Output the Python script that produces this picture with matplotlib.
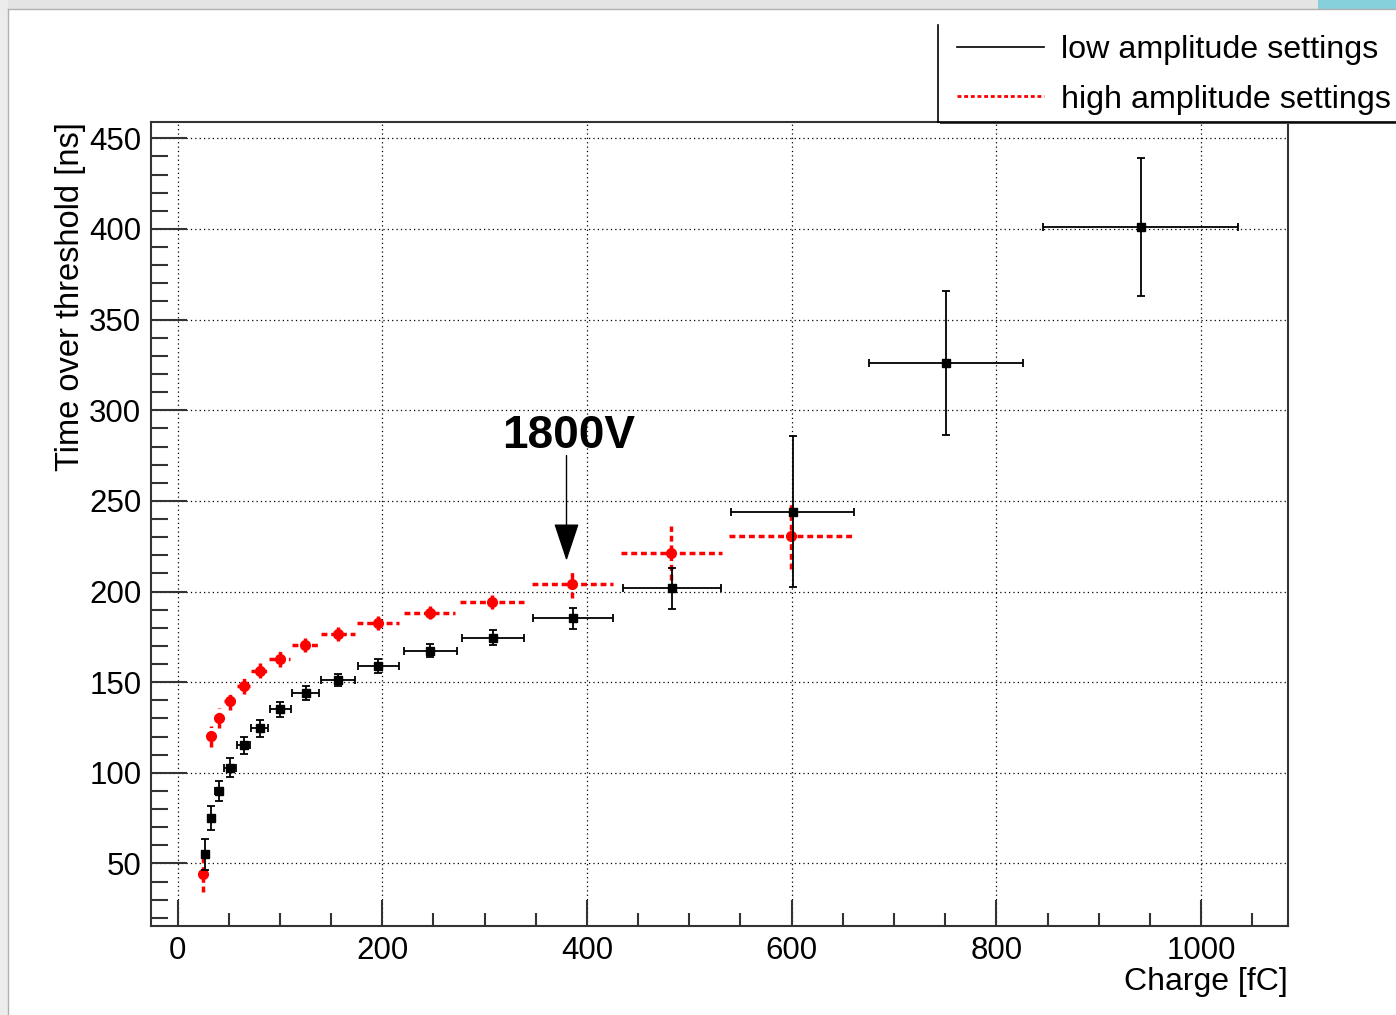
import matplotlib
matplotlib.use("Agg")
import matplotlib.pyplot as plt
import matplotlib.patches as patches
from matplotlib.lines import Line2D
from matplotlib.ticker import MultipleLocator

plt.rcParams['font.family'] = ['Liberation Sans', 'DejaVu Sans']

# low amplitude settings (black)
low_q = [26.4, 32.9, 40.4, 51.1, 64.5, 80.4, 100.3, 125, 157, 196, 247, 308, 386, 483, 601, 751, 941]
low_q_err = [2.6, 3.3, 4.0, 5.5, 6.3, 8.3, 10.5, 13, 16.4, 20, 26, 30, 39, 48, 60, 75, 95]
low_tot = [55.1, 75.1, 90.2, 102.9, 115.1, 124.5, 135.0, 144.0, 151.4, 159.1, 167.3, 174.6, 185.3, 201.7, 244.1, 326, 401.2]
low_tot_err = [8.5, 6.6, 5.5, 5.3, 4.6, 4.6, 4.2, 3.9, 3.3, 3.8, 3.5, 4.0, 5.7, 11.4, 41.8, 39.8, 38.2]

# high amplitude settings (red)
high_q = [24.8, 32.2, 40.1, 50.8, 64.5, 80.1, 99.7, 124.4, 156.6, 196.1, 246.2, 307.4, 385.8, 482.4, 599.5]
high_q_err = [2.5, 3.2, 4.0, 5.5, 6.3, 8.3, 10.5, 13, 16.4, 20.5, 25, 31, 39.5, 49.4, 61]
high_tot = [44.1, 120.2, 130.0, 139.8, 148.1, 156.2, 162.8, 170.6, 176.5, 182.6, 188.3, 194.3, 203.9, 221.1, 230.9]
high_tot_err = [10, 5.7, 5.5, 5.3, 4.5, 4.1, 4.2, 3.8, 3.9, 3.8, 3.6, 3.8, 7.4, 15, 18.2]

legend_labels = ["low amplitude settings", "high amplitude settings"]
annot_text = "1800V"
annot_x, annot_tip_y, annot_tail_y, annot_text_y = 380, 217, 275, 286

FS = 22.5
frame_col = "#333333"

fig = plt.figure(figsize=(13.96, 10.15), dpi=100)
ax = fig.add_axes([151/1396, 89/1015, (1288-151)/1396, (926-122)/1015])

# window chrome round the canvas
fig.patches.append(patches.Rectangle((0, 1-9/1015), 1, 9/1015, transform=fig.transFigure,
                                     facecolor="#e4e4e4", edgecolor="none", zorder=0))
fig.patches.append(patches.Rectangle((0, 0), 8/1396, 1, transform=fig.transFigure,
                                     facecolor="#ececec", edgecolor="none", zorder=0))
fig.patches.append(patches.Rectangle((1318/1396, 1-9/1015), 78/1396, 9/1015, transform=fig.transFigure,
                                     facecolor="#86d0dc", edgecolor="none", zorder=1))
fig.add_artist(Line2D([8/1396, 8/1396], [0, 1-9/1015], transform=fig.transFigure, color="#b0b0b0", lw=1))
fig.add_artist(Line2D([8/1396, 1], [1-9/1015, 1-9/1015], transform=fig.transFigure, color="#b0b0b0", lw=1))

eb_low = ax.errorbar(low_q, low_tot, xerr=low_q_err, yerr=low_tot_err, fmt='s', color='black',
                     markersize=6, elinewidth=1.3, capsize=3, capthick=1.3, zorder=4)

eb_high = ax.errorbar(high_q, high_tot, xerr=high_q_err, yerr=high_tot_err, fmt='o', color='red',
                      markersize=7, elinewidth=2.5, capsize=0, zorder=3)
for lc in eb_high[2]:
    lc.set_linestyle((0, (1.7, 1.1)))

ax.set_xlim(-26, 1085)
ax.set_ylim(15.5, 459)

ax.xaxis.set_major_locator(MultipleLocator(200))
ax.xaxis.set_minor_locator(MultipleLocator(50))
ax.yaxis.set_major_locator(MultipleLocator(50))
ax.yaxis.set_minor_locator(MultipleLocator(10))

ax.tick_params(which='both', direction='in', top=False, right=False, color=frame_col, width=1.5)
ax.tick_params(axis='y', which='major', length=26, pad=7, labelsize=FS)
ax.tick_params(axis='y', which='minor', length=12.5)
ax.tick_params(axis='x', which='major', length=19, pad=7, labelsize=FS)
ax.tick_params(axis='x', which='minor', length=9.5)

for s in ax.spines.values():
    s.set_color(frame_col)
    s.set_linewidth(1.5)

ax.grid(True, which='major', color='black', linestyle=(0, (1, 2.5)), linewidth=0.9)
ax.set_axisbelow(False)

ax.set_xlabel("Charge [fC]", fontsize=23, loc='right', labelpad=1)
ax.set_ylabel("Time over threshold [ns]", fontsize=23.5, loc='top', labelpad=2)

# annotation arrow
ax.annotate("", xy=(annot_x, annot_tip_y), xytext=(annot_x, annot_tail_y),
            arrowprops=dict(arrowstyle="-|>,head_length=24,head_width=8", mutation_scale=1,
                            color='black', lw=1, shrinkA=0, shrinkB=0), zorder=6)
ax.text(annot_x + 2, annot_text_y, annot_text, ha='center', va='center', fontsize=33,
        fontweight='bold', zorder=6)

# legend box, clipped at the right edge of the canvas (only left + bottom edges show)
lx0, ly0, ly1 = 938/1396, 1-122/1015, 1-25/1015
fig.patches.append(patches.Rectangle((lx0+2/1396, ly0-2/1015), 0.4, ly1-ly0, transform=fig.transFigure,
                                     facecolor="#444444", edgecolor="none", zorder=5))
fig.patches.append(patches.Rectangle((lx0, ly0), 0.4, ly1-ly0, transform=fig.transFigure,
                                     facecolor="white", edgecolor="none", zorder=6))
fig.add_artist(Line2D([lx0, lx0], [ly0, ly1], transform=fig.transFigure, color='black', lw=1.2, zorder=6.5))
fig.add_artist(Line2D([lx0, 1], [ly0, ly0], transform=fig.transFigure, color='black', lw=1.2, zorder=6.5))
handles = [Line2D([], [], color='black', lw=1.2),
           Line2D([], [], color='red', lw=2, linestyle=(0, (1.4, 1.0)))]
leg = fig.legend(handles, legend_labels, loc='upper left', bbox_to_anchor=(lx0 + 13/1396, ly1 - 4/1015),
                 frameon=False, fontsize=23.2, handlelength=2.7, handletextpad=0.5, labelspacing=0.6,
                 borderpad=0.2, borderaxespad=0)
leg.set_zorder(7)

fig.savefig("out.png", dpi=100)
